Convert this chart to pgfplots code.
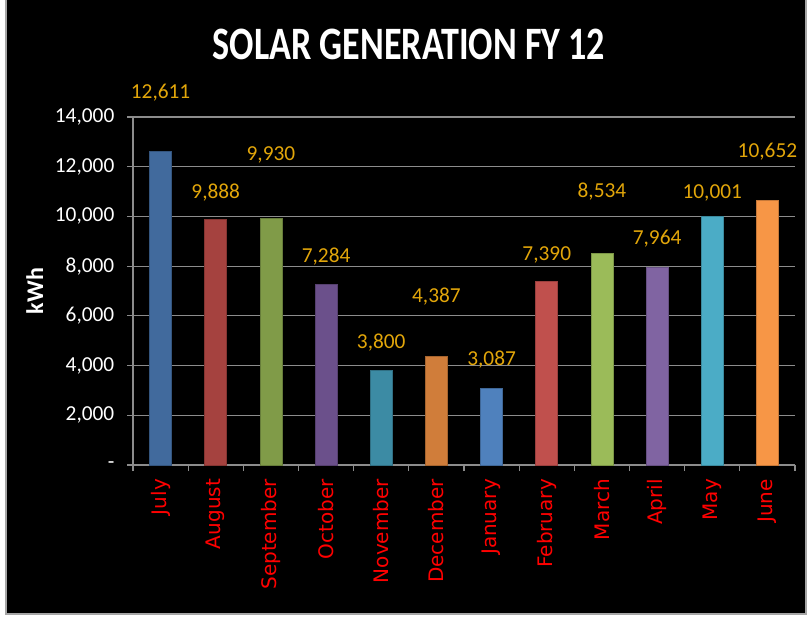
\documentclass[border=0pt]{standalone}
\usepackage{pgfplots}
\pgfplotsset{compat=1.18}
\usepackage{fontspec}
\setmainfont{Carlito}
\newfontfamily\dejavu{DejaVu Sans}
\definecolor{c1}{RGB}{65,106,157}
\definecolor{c2}{RGB}{165,66,63}
\definecolor{c3}{RGB}{128,155,72}
\definecolor{c4}{RGB}{107,80,139}
\definecolor{c5}{RGB}{60,139,164}
\definecolor{c6}{RGB}{208,125,58}
\definecolor{c7}{RGB}{79,129,189}
\definecolor{c8}{RGB}{192,80,77}
\definecolor{c9}{RGB}{155,187,89}
\definecolor{c10}{RGB}{128,100,162}
\definecolor{c11}{RGB}{75,172,198}
\definecolor{c12}{RGB}{247,150,70}
\definecolor{gold}{RGB}{226,166,10}
\definecolor{gridc}{RGB}{140,140,140}
\begin{document}
\begin{tikzpicture}
\useasboundingbox (0,0) rectangle (607.5pt,463.5pt);
\fill[white] (0,0) rectangle (607.5pt,463.5pt);
\fill[black] (4.5pt,3pt) rectangle (604.5pt,470pt);
\draw[gray!70, line width=1.2pt] (4.5pt,470pt) -- (4.5pt,3pt) -- (604.5pt,3pt) -- (604.5pt,470pt);
\node[font=\bfseries\fontsize{26.8}{30}\selectfont, text=white] at (306.75pt,430.5pt) {\scalebox{1.01}[1.3]{SOLAR GENERATION FY 12}};
\begin{axis}[
  at={(99.75pt,114.75pt)}, anchor=south west,
  width=496.5pt, height=261pt, scale only axis,
  clip=false, scaled y ticks=false,
  xmin=-0.5, xmax=11.5, ymin=0, ymax=14000,
  axis lines*=left,
  axis line style={gridc, line width=0.8pt},
  ymajorgrids, grid style={gridc, line width=0.8pt},
  tick align=outside, major tick length=4.5pt,
  tick style={gridc, line width=0.8pt},
  xtick={-0.5,0.5,...,11.5}, xticklabels={},
  xticklabel style={font=\dejavu\fontsize{15}{17}\selectfont},
  extra x ticks={0,1,2,3,4,5,6,7,8,9,10,11},
  extra x tick labels={July,August,September,October,November,December,January,February,March,April,May,June},
  extra x tick style={major tick length=0pt, grid=none,
    xticklabel style={yshift=-7pt, rotate=90, anchor=east, text=red, font=\dejavu\fontsize{15}{17}\selectfont}},
  ytick={0,2000,4000,6000,8000,10000,12000,14000},
  yticklabels={-,{2,000},{4,000},{6,000},{8,000},{10,000},{12,000},{14,000}},
  yticklabel style={text=white, xshift=-6pt, font=\fontsize{16}{18}\selectfont},
  ylabel={kWh},
  every axis y label/.style={at={(axis description cs:-0.1485,0.5)}, rotate=90, anchor=center, text=white, font=\bfseries\fontsize{18}{20}\selectfont},
  mybar/.style={ybar, bar width=16.5pt, bar shift=0pt, fill=#1, draw=#1!80!black, line width=0.5pt},
]
\addplot[mybar=c1] coordinates {(0,12611)};
\addplot[mybar=c2] coordinates {(1,9888)};
\addplot[mybar=c3] coordinates {(2,9930)};
\addplot[mybar=c4] coordinates {(3,7284)};
\addplot[mybar=c5] coordinates {(4,3800)};
\addplot[mybar=c6] coordinates {(5,4387)};
\addplot[mybar=c7] coordinates {(6,3087)};
\addplot[mybar=c8] coordinates {(7,7390)};
\addplot[mybar=c9] coordinates {(8,8534)};
\addplot[mybar=c10] coordinates {(9,7964)};
\addplot[mybar=c11] coordinates {(10,10001)};
\addplot[mybar=c12] coordinates {(11,10652)};
\addplot[draw=none, mark=none, point meta=explicit,
  nodes near coords={\pgfmathprintnumber[assume math mode=true,1000 sep={,}]{\pgfplotspointmeta}},
  every node near coord/.append style={anchor=center, text=gold, font=\fontsize{16}{18}\selectfont}]
  coordinates {
  (0,14964) [12611]
  (1,10942) [9888]
  (2,12470) [9930]
  (3,8367) [7284]
  (4,4908) [3800]
  (5,6758) [4387]
  (6,4224) [3087]
  (7,8447) [7390]
  (8,10982) [8534]
  (9,9091) [7964]
  (10,10942) [10001]
  (11,12591) [10652]
  };
\end{axis}
\end{tikzpicture}
\end{document}
